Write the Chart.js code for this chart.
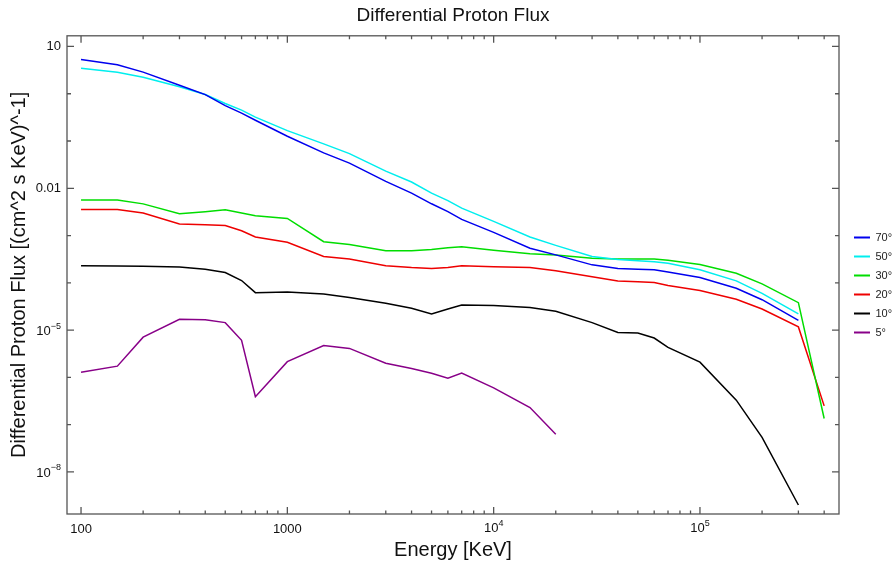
<!DOCTYPE html>
<html>
<head>
<meta charset="utf-8">
<title>Differential Proton Flux</title>
<script src="https://cdn.jsdelivr.net/npm/chart.js@4.4.1/dist/chart.umd.min.js"></script>
<style>
  html, body { margin: 0; padding: 0; background: #fff; }
  #wrap { width: 895px; height: 570px; }
</style>
</head>
<body>
<div id="wrap"><canvas id="flux"></canvas></div>
<script>
// energies (KeV)
const energy = [100, 150, 200, 300, 400, 500, 600, 700, 1000, 1500, 2000, 3000, 4000, 5000, 6000, 7000,
  10000, 15000, 20000, 30000, 40000, 50000, 60000, 70000, 100000, 150000, 200000, 300000, 400000];

const deg70 = [5.3, 4.1, 2.86, 1.51, 0.96, 0.56, 0.39, 0.275, 0.126, 0.056, 0.034, 0.014, 0.0079, 0.0047, 0.0032, 0.0022,
  0.00117, 0.00054, 0.00039, 2.4e-4, 2.0e-4, 1.95e-4, 1.9e-4, 1.7e-4, 1.3e-4, 7.7e-5, 4.4e-5, 1.6e-5, null];
const deg50 = [3.47, 2.86, 2.24, 1.4, 0.96, 0.62, 0.45, 0.32, 0.166, 0.087, 0.054, 0.023, 0.0136, 0.0079, 0.0055, 0.0038,
  0.002, 0.00093, 0.00062, 3.6e-4, 3.1e-4, 2.95e-4, 2.8e-4, 2.6e-4, 1.9e-4, 1.1e-4, 6.0e-5, 2.2e-5, null];
const deg30 = [0.00565, 0.00565, 0.00468, 0.0029, 0.0032, 0.0035, 0.003, 0.00263, 0.0023, 0.00074, 0.00065, 0.00048, 0.00048, 0.00051, 0.00055, 0.00058,
  0.00049, 0.00041, 0.00039, 3.3e-4, 3.2e-4, 3.2e-4, 3.2e-4, 3.0e-4, 2.45e-4, 1.6e-4, 9.5e-5, 3.8e-5, 1.35e-7];
const deg20 = [0.00357, 0.00357, 0.003, 0.00175, 0.0017, 0.00163, 0.00126, 0.00093, 0.00072, 0.00036, 0.00032, 0.00023, 0.00021, 0.0002, 0.00021, 0.00023,
  0.00022, 0.00021, 0.00018, 1.35e-4, 1.1e-4, 1.05e-4, 1.02e-4, 8.8e-5, 6.9e-5, 4.5e-5, 2.8e-5, 1.17e-5, 2.5e-7];
const deg10 = [2.29e-4, 2.27e-4, 2.25e-4, 2.15e-4, 1.94e-4, 1.65e-4, 1.12e-4, 6.2e-5, 6.4e-5, 5.8e-5, 4.9e-5, 3.7e-5, 2.9e-5, 2.2e-5, 2.8e-5, 3.4e-5,
  3.3e-5, 3.0e-5, 2.5e-5, 1.44e-5, 8.9e-6, 8.7e-6, 6.8e-6, 4.3e-6, 2.1e-6, 3.3e-7, 5.4e-8, 2.0e-9, null];
const deg5 = [1.28e-6, 1.73e-6, 7.1e-6, 1.7e-5, 1.66e-5, 1.44e-5, 6.1e-6, 3.9e-7, 2.15e-6, 4.7e-6, 4.1e-6, 2.0e-6, 1.55e-6, 1.22e-6, 9.6e-7, 1.24e-6,
  6.0e-7, 2.3e-7, 6.3e-8, null, null, null, null, null, null, null, null, null, null];

const seriesNames = ['70°', '50°', '30°', '20°', '10°', '5°'];
const seriesColors = ['#0000ee', '#00eeee', '#00dd00', '#ee0000', '#000000', '#880088'];

// tick labels: plain text, or [base, exponent] drawn with a raised exponent
const xTickLabels = { 100: '100', 1000: '1000', 10000: ['10', '4'], 100000: ['10', '5'] };
const yTickLabels = { 10: '10', 0.01: '0.01', 1e-5: ['10', '\u22125'], 1e-8: ['10', '\u22128'] };

const xMin = 85.5, xMax = 472000;
const yMin = 1.29e-9, yMax = 16.8;

function pairs(ys) {
  return energy.map((e, i) => ({ x: e, y: ys[i] }));
}

const allSeries = [deg70, deg50, deg30, deg20, deg10, deg5];
const datasets = allSeries.map((ys, i) => ({
  label: seriesNames[i],
  data: pairs(ys),
  borderColor: seriesColors[i],
  backgroundColor: seriesColors[i],
  borderWidth: 1.5,
  pointRadius: 0,
  tension: 0,
  spanGaps: false
}));

function xTickValues() {
  const out = [];
  for (let d = 2; d <= 5; d++) {
    for (let m = 1; m <= 9; m++) {
      const v = m * Math.pow(10, d);
      if (v >= xMin && v <= xMax) out.push(v);
    }
  }
  return out;
}
function yTickValues() {
  const out = [];
  for (let d = -8; d <= 1; d++) out.push(Math.pow(10, d));
  return out;
}
function labelFor(map, v) {
  for (const k in map) {
    if (Math.abs(Math.log10(+k) - Math.log10(v)) < 1e-6) return map[k];
  }
  return '';
}
function plainLabel(map, v) {
  const l = labelFor(map, v);
  return typeof l === 'string' ? l : '';
}

const font = 'Liberation Sans, Arial, Helvetica, sans-serif';

// frame, inward ticks on all four sides, and power-of-ten tick labels
const frameTicks = {
  id: 'frameTicks',
  afterDatasetsDraw(chart) {
    const { ctx, chartArea: a, scales } = chart;
    ctx.save();
    ctx.strokeStyle = '#555';
    ctx.lineWidth = 1.3;
    ctx.strokeRect(a.left, a.top, a.right - a.left, a.bottom - a.top);
    ctx.beginPath();
    xTickValues().forEach(v => {
      const x = scales.x.getPixelForValue(v);
      const len = labelFor(xTickLabels, v) ? 7 : 3.5;
      ctx.moveTo(x, a.bottom); ctx.lineTo(x, a.bottom - len);
      ctx.moveTo(x, a.top); ctx.lineTo(x, a.top + len);
    });
    yTickValues().forEach(v => {
      const y = scales.y.getPixelForValue(v);
      const len = labelFor(yTickLabels, v) ? 7 : 4;
      ctx.moveTo(a.left, y); ctx.lineTo(a.left + len, y);
      ctx.moveTo(a.right, y); ctx.lineTo(a.right - len, y);
    });
    ctx.stroke();

    ctx.fillStyle = '#111';
    const baseFont = '13px ' + font;
    const expFont = '9px ' + font;
    xTickValues().forEach(v => {
      const l = labelFor(xTickLabels, v);
      if (!Array.isArray(l)) return;
      const x = scales.x.getPixelForValue(v);
      ctx.font = baseFont;
      const wb = ctx.measureText(l[0]).width;
      ctx.font = expFont;
      const we = ctx.measureText(l[1]).width;
      const x0 = x - (wb + we) / 2;
      ctx.textAlign = 'left';
      ctx.textBaseline = 'top';
      ctx.font = baseFont;
      ctx.fillText(l[0], x0, a.bottom + 8);
      ctx.font = expFont;
      ctx.fillText(l[1], x0 + wb, a.bottom + 5);
    });
    yTickValues().forEach(v => {
      const l = labelFor(yTickLabels, v);
      if (!Array.isArray(l)) return;
      const y = scales.y.getPixelForValue(v);
      ctx.font = expFont;
      const we = ctx.measureText(l[1]).width;
      ctx.textAlign = 'right';
      ctx.textBaseline = 'middle';
      const xr = a.left - 6;
      ctx.fillText(l[1], xr, y - 4);
      ctx.font = baseFont;
      ctx.fillText(l[0], xr - we, y + 1);
    });
    ctx.restore();
  }
};

new Chart(document.getElementById('flux'), {
  type: 'line',
  data: { datasets: datasets },
  options: {
    responsive: true,
    maintainAspectRatio: false,
    animation: false,
    layout: { padding: { left: 0, right: 0, top: 0, bottom: 0 } },
    plugins: {
      title: {
        display: true,
        text: 'Differential Proton Flux',
        fullSize: false,
        color: '#111',
        font: { family: font, size: 19, weight: 'normal' },
        padding: { top: 4, bottom: 9 }
      },
      legend: {
        position: 'right',
        align: 'center',
        maxWidth: 49,
        labels: {
          boxWidth: 16,
          boxHeight: 2,
          padding: 8,
          color: '#222',
          font: { family: font, size: 11 },
          generateLabels(chart) {
            const items = Chart.defaults.plugins.legend.labels.generateLabels(chart);
            items.forEach(it => { it.lineWidth = 0; });
            return items;
          }
        }
      },
      tooltip: { enabled: false }
    },
    scales: {
      x: {
        type: 'logarithmic',
        min: xMin,
        max: xMax,
        afterBuildTicks(scale) {
          scale.ticks = xTickValues().map(v => ({ value: v }));
        },
        afterFit(scale) { scale.height = 56; },
        grid: { display: false, drawTicks: false },
        border: { display: false },
        ticks: {
          autoSkip: false,
          maxRotation: 0,
          padding: 8,
          color: '#111',
          font: { family: font, size: 13 },
          callback: v => plainLabel(xTickLabels, v)
        },
        title: {
          display: true,
          text: 'Energy [KeV]',
          color: '#111',
          font: { family: font, size: 20 },
          padding: { top: 0, bottom: 8 }
        }
      },
      y: {
        type: 'logarithmic',
        min: yMin,
        max: yMax,
        afterBuildTicks(scale) {
          scale.ticks = yTickValues().map(v => ({ value: v }));
        },
        afterFit(scale) { scale.width = 67; },
        grid: { display: false, drawTicks: false },
        border: { display: false },
        ticks: {
          autoSkip: false,
          padding: 6,
          color: '#111',
          font: { family: font, size: 13 },
          callback: v => plainLabel(yTickLabels, v)
        },
        title: {
          display: true,
          text: 'Differential Proton Flux [(cm^2 s KeV)^-1]',
          color: '#111',
          font: { family: font, size: 20 },
          padding: { top: 7, bottom: 0 }
        }
      },
      gap: {
        type: 'linear',
        position: 'right',
        display: true,
        afterFit(scale) { scale.width = 7; },
        grid: { display: false, drawTicks: false },
        border: { display: false },
        ticks: { display: false }
      }
    }
  },
  plugins: [frameTicks]
});
</script>
</body>
</html>
